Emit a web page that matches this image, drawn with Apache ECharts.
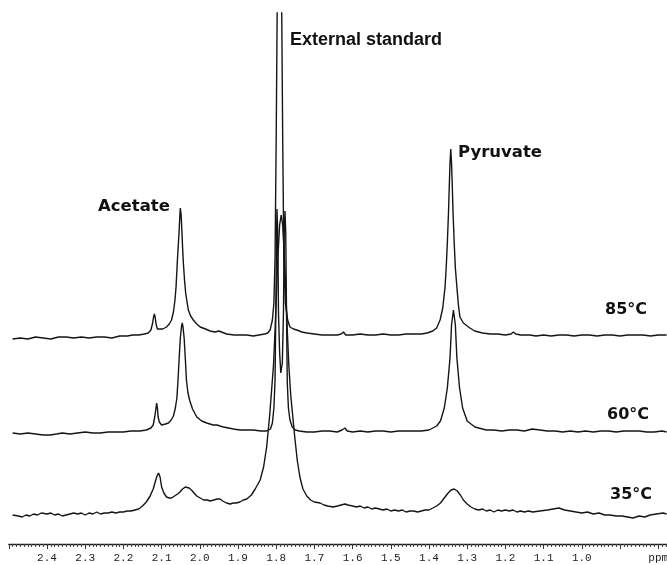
<!DOCTYPE html>
<html><head><meta charset="utf-8">
<script src="https://cdn.jsdelivr.net/npm/echarts@6/dist/echarts.min.js"></script>
<style>html,body{margin:0;padding:0;background:#fff}#c{width:667px;height:565px}</style>
</head><body><div id="c"></div>
<script>
// ppm axis ticks
const tickLabels = ['2.4','2.3','2.2','2.1','2.0','1.9','1.8','1.7','1.6','1.5','1.4','1.3','1.2','1.1','1.0'];
const unitLabel = 'ppm';
const traceNames = ['85°C','60°C','35°C'];
const peakNames = ['Acetate','External standard','Pyruvate'];

// [ppm, intensity above own baseline]
const trace85 = [
[2.490,-1],[2.470,0],[2.450,-1],[2.430,1],[2.410,0],[2.390,-1],[2.370,1],[2.350,1],[2.330,0],[2.310,1],[2.290,0],[2.270,1],[2.250,1],[2.230,0],[2.210,2],[2.190,2],[2.175,3],[2.160,3],[2.145,4],[2.135,5],[2.128,8],[2.124,14],[2.121,21],[2.119,24],[2.117,21],[2.114,13],[2.111,9],[2.106,8],[2.097,9],[2.087,11],[2.080,14],[2.074,18],[2.069,26],[2.065,38],[2.062,52],[2.059,75],[2.056,95],[2.054,108],[2.052,124],[2.051,130],[2.049,124],[2.047,108],[2.045,90],[2.043,75],[2.040,58],[2.037,45],[2.033,35],[2.030,28],[2.024,22],[2.017,18],[2.008,14],[1.999,11],[1.985,9],[1.973,7],[1.960,6],[1.950,7],[1.945,6],[1.930,4],[1.910,3],[1.890,3],[1.877,3],[1.860,2],[1.845,3],[1.830,4],[1.822,5],[1.816,8],[1.810,18],[1.806,35],[1.803,80],[1.800,200],[1.7975,325],[1.7935,400],[1.7895,400],[1.7855,325],[1.783,200],[1.780,80],[1.776,35],[1.770,18],[1.764,11],[1.755,9],[1.746,8],[1.733,6],[1.720,5],[1.700,4],[1.680,3],[1.660,3],[1.640,3],[1.630,4],[1.624,6],[1.618,3],[1.600,3],[1.580,4],[1.560,3],[1.540,3],[1.520,4],[1.500,3],[1.480,3],[1.460,4],[1.440,4],[1.420,4],[1.405,5],[1.390,7],[1.380,10],[1.371,18],[1.364,30],[1.358,51],[1.355,70],[1.352,95],[1.349,125],[1.347,151],[1.345,175],[1.343,189],[1.341,175],[1.339,151],[1.337,125],[1.334,95],[1.331,70],[1.327,51],[1.323,33],[1.319,21],[1.310,15],[1.300,12],[1.293,10],[1.280,7],[1.260,5],[1.240,4],[1.220,4],[1.200,3],[1.185,4],[1.179,6],[1.173,4],[1.160,3],[1.136,3],[1.120,2],[1.100,3],[1.080,2],[1.060,3],[1.040,3],[1.020,2],[1.000,3],[0.980,3],[0.960,2],[0.940,3],[0.920,3],[0.900,2],[0.880,3],[0.860,3],[0.840,3],[0.820,2],[0.800,3],[0.778,3]
];
const trace60 = [
[2.490,0],[2.470,-1],[2.450,0],[2.430,-1],[2.410,-2],[2.392,-2],[2.375,-1],[2.360,0],[2.340,-1],[2.320,0],[2.300,1],[2.280,0],[2.261,0],[2.240,1],[2.220,1],[2.200,1],[2.180,2],[2.157,2],[2.140,3],[2.128,5],[2.122,8],[2.118,16],[2.115,24],[2.113,30],[2.111,25],[2.109,16],[2.106,11],[2.100,8],[2.090,9],[2.082,10],[2.075,13],[2.069,17],[2.064,25],[2.060,35],[2.057,53],[2.054,75],[2.051,95],[2.048,106],[2.046,110],[2.044,106],[2.041,95],[2.038,75],[2.035,53],[2.031,40],[2.026,32],[2.019,24],[2.008,16],[1.995,12],[1.982,10],[1.965,8],[1.955,8],[1.947,7],[1.938,6],[1.925,5],[1.912,4],[1.895,3],[1.875,3],[1.860,3],[1.840,2],[1.825,2],[1.815,4],[1.810,10],[1.806,25],[1.803,53],[1.801,120],[1.799,200],[1.798,224],[1.796,200],[1.794,120],[1.791,80],[1.788,60],[1.784,70],[1.781,120],[1.779,200],[1.777,222],[1.775,200],[1.773,120],[1.771,50],[1.768,25],[1.764,13],[1.758,6],[1.750,3],[1.740,2],[1.720,1],[1.700,1],[1.680,2],[1.660,2],[1.640,1],[1.628,3],[1.620,5],[1.614,2],[1.600,1],[1.580,2],[1.560,1],[1.540,2],[1.520,2],[1.500,1],[1.480,2],[1.460,2],[1.440,2],[1.420,2],[1.400,3],[1.380,7],[1.370,12],[1.360,25],[1.352,45],[1.345,75],[1.341,108],[1.336,123],[1.331,108],[1.327,75],[1.320,45],[1.312,25],[1.300,12],[1.280,6],[1.250,3],[1.230,3],[1.210,2],[1.190,3],[1.170,3],[1.150,2],[1.130,4],[1.110,3],[1.090,2],[1.070,2],[1.050,1],[1.030,2],[1.010,1],[0.990,2],[0.970,1],[0.950,2],[0.930,2],[0.910,1],[0.890,2],[0.870,2],[0.850,2],[0.830,1],[0.810,1],[0.790,2],[0.778,1]
];
const trace35 = [
[2.490,0],[2.475,-1],[2.465,-2],[2.455,0],[2.445,-1],[2.435,1],[2.425,0],[2.415,2],[2.400,1],[2.390,2],[2.380,0],[2.370,1],[2.360,-1],[2.350,0],[2.340,1],[2.330,2],[2.320,1],[2.310,2],[2.300,0],[2.290,2],[2.280,1],[2.270,3],[2.260,1],[2.250,2],[2.240,2],[2.230,3],[2.220,2],[2.210,3],[2.200,3],[2.190,4],[2.180,4],[2.170,5],[2.160,6],[2.150,9],[2.140,13],[2.130,19],[2.122,26],[2.116,34],[2.112,39],[2.108,42],[2.104,38],[2.100,28],[2.094,22],[2.087,18],[2.080,17],[2.074,17],[2.066,19],[2.058,21],[2.052,23],[2.045,26],[2.038,28],[2.034,29],[2.028,27],[2.022,25],[2.017,23],[2.008,19],[1.999,17],[1.990,15],[1.980,15],[1.973,14],[1.963,15],[1.955,16],[1.947,16],[1.940,14],[1.930,12],[1.921,11],[1.912,12],[1.905,12],[1.895,13],[1.886,15],[1.877,16],[1.865,20],[1.855,26],[1.842,35],[1.833,48],[1.825,68],[1.817,100],[1.812,125],[1.807,150],[1.803,185],[1.799,225],[1.795,262],[1.791,290],[1.787,300],[1.783,290],[1.779,262],[1.775,225],[1.771,185],[1.767,150],[1.762,120],[1.757,100],[1.752,80],[1.745,55],[1.738,38],[1.730,26],[1.720,19],[1.710,15],[1.700,13],[1.685,12],[1.675,10],[1.665,9],[1.651,8],[1.640,9],[1.630,10],[1.620,11],[1.612,10],[1.600,9],[1.590,8],[1.580,9],[1.570,7],[1.560,8],[1.550,6],[1.540,7],[1.530,6],[1.520,5],[1.510,6],[1.500,4],[1.490,5],[1.480,4],[1.470,5],[1.460,3],[1.450,4],[1.440,4],[1.430,3],[1.420,4],[1.410,5],[1.400,5],[1.390,7],[1.380,9],[1.370,12],[1.360,17],[1.350,22],[1.342,25],[1.334,26],[1.326,24],[1.318,20],[1.310,15],[1.300,11],[1.290,8],[1.280,6],[1.270,5],[1.260,6],[1.250,4],[1.240,5],[1.230,3],[1.220,5],[1.210,4],[1.200,5],[1.190,4],[1.180,5],[1.170,3],[1.160,4],[1.150,3],[1.140,4],[1.128,3],[1.110,4],[1.090,5],[1.075,6],[1.060,7],[1.045,5],[1.030,4],[1.015,3],[1.000,2],[0.985,3],[0.970,1],[0.955,2],[0.940,0],[0.926,0],[0.910,-1],[0.895,-1],[0.880,-2],[0.866,-3],[0.850,-1],[0.835,-2],[0.821,0],[0.805,1],[0.787,2],[0.778,1]
];
const traces = [trace85, trace60, trace35];
const baselineOffsets = [206, 111, 29];

const chart = echarts.init(document.getElementById('c'), null, {renderer:'canvas'});
const ink = '#151515';
const series = traces.map((t, i) => ({
  type: 'line', name: traceNames[i], showSymbol: false, symbol: 'none', clip: true,
  animation: false, silent: true,
  lineStyle: {color: ink, width: 1.4},
  data: t.map(p => [p[0], p[1] + baselineOffsets[i]])
}));
chart.setOption({
  backgroundColor: '#fff',
  animation: false,
  grid: {left: 8.8, width: 687.6, top: 13, bottom: 21, containLabel: false, outerBoundsMode: 'none'},
  xAxis: {
    type: 'value', min: 0.7, max: 2.5, interval: 0.1, inverse: true,
    axisLine: {show: true, lineStyle: {color: '#222', width: 1.3}},
    axisTick: {show: true, length: 5, lineStyle: {color: '#333', width: 1}},
    minorTick: {show: true, splitNumber: 10, length: 3, lineStyle: {color: '#444', width: 1}},
    splitLine: {show: false}, minorSplitLine: {show: false},
    axisLabel: {
      margin: 9, color: '#222', fontFamily: 'Liberation Mono', fontSize: 11,
      formatter: v => {
        const s = (Math.round(v * 10) / 10).toFixed(1);
        if (tickLabels.indexOf(s) >= 0) return s;
        if (s === '0.8') return unitLabel;
        return '';
      }
    }
  },
  yAxis: {type: 'value', min: 0, max: 531, show: false},
  series: series,
  graphic: [
    {type:'text', x:290, y:40, style:{text: peakNames[1], font:'bold 18px "Liberation Sans", Arial', fill:'#111', verticalAlign:'middle'}},
    {type:'text', x:98, y:207, style:{text: peakNames[0], font:'bold 16.5px "DejaVu Sans"', fill:'#111', verticalAlign:'middle'}},
    {type:'text', x:458, y:153, style:{text: peakNames[2], font:'bold 16.5px "DejaVu Sans"', fill:'#111', verticalAlign:'middle'}},
    {type:'text', x:605, y:310, style:{text: traceNames[0], font:'bold 16px "DejaVu Sans"', fill:'#111', verticalAlign:'middle'}},
    {type:'text', x:607, y:415, style:{text: traceNames[1], font:'bold 16px "DejaVu Sans"', fill:'#111', verticalAlign:'middle'}},
    {type:'text', x:610, y:495, style:{text: traceNames[2], font:'bold 16px "DejaVu Sans"', fill:'#111', verticalAlign:'middle'}}
  ]
});
</script></body></html>
